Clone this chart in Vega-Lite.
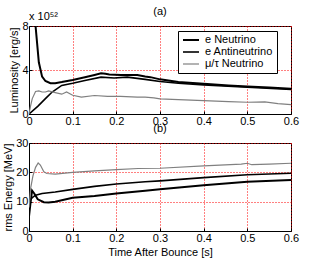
{
  "$schema": "https://vega.github.io/schema/vega-lite/v6.json",
  "background": "white",
  "padding": {"left": 2, "top": 5, "right": 5, "bottom": 2},
  "bounds": "flush",
  "spacing": 29,
  "config": {
    "font": "Liberation Sans",
    "view": {"stroke": "black", "strokeWidth": 1},
    "axis": {
      "labelFont": "Liberation Sans", "labelFontSize": 11, "labelColor": "black",
      "titleFont": "Liberation Sans", "titleFontSize": 11, "titleFontWeight": "normal", "titleColor": "black",
      "domainColor": "black", "tickColor": "black", "tickSize": -3, "titlePadding": 2,
      "labelOverlap": false, "labelFlush": false
    },
    "title": {"font": "Liberation Sans", "fontSize": 11, "fontWeight": "normal", "color": "black"},
    "legend": {"labelFont": "Liberation Sans", "labelFontSize": 11, "labelColor": "black"}
  },
  "datasets": {
    "lum": [
      {"series": "e Neutrino", "t": 0.010, "v": 12},
      {"series": "e Neutrino", "t": 0.015, "v": 8.0},
      {"series": "e Neutrino", "t": 0.0225, "v": 4.7},
      {"series": "e Neutrino", "t": 0.03, "v": 3.4},
      {"series": "e Neutrino", "t": 0.0376, "v": 3.0},
      {"series": "e Neutrino", "t": 0.049, "v": 2.8},
      {"series": "e Neutrino", "t": 0.06, "v": 2.8},
      {"series": "e Neutrino", "t": 0.075, "v": 2.9},
      {"series": "e Neutrino", "t": 0.1, "v": 3.1},
      {"series": "e Neutrino", "t": 0.128, "v": 3.35},
      {"series": "e Neutrino", "t": 0.15, "v": 3.55},
      {"series": "e Neutrino", "t": 0.165, "v": 3.7},
      {"series": "e Neutrino", "t": 0.175, "v": 3.65},
      {"series": "e Neutrino", "t": 0.184, "v": 3.6},
      {"series": "e Neutrino", "t": 0.21, "v": 3.55},
      {"series": "e Neutrino", "t": 0.248, "v": 3.55},
      {"series": "e Neutrino", "t": 0.266, "v": 3.4},
      {"series": "e Neutrino", "t": 0.278, "v": 3.35},
      {"series": "e Neutrino", "t": 0.3, "v": 3.15},
      {"series": "e Neutrino", "t": 0.342, "v": 2.9},
      {"series": "e Neutrino", "t": 0.4, "v": 2.75},
      {"series": "e Neutrino", "t": 0.457, "v": 2.6},
      {"series": "e Neutrino", "t": 0.5, "v": 2.5},
      {"series": "e Neutrino", "t": 0.55, "v": 2.4},
      {"series": "e Neutrino", "t": 0.6, "v": 2.3},
      {"series": "e Antineutrino", "t": 0, "v": 0},
      {"series": "e Antineutrino", "t": 0.02, "v": 0.7},
      {"series": "e Antineutrino", "t": 0.0376, "v": 1.4},
      {"series": "e Antineutrino", "t": 0.053, "v": 2.0},
      {"series": "e Antineutrino", "t": 0.075, "v": 2.6},
      {"series": "e Antineutrino", "t": 0.1, "v": 2.8},
      {"series": "e Antineutrino", "t": 0.128, "v": 3.05},
      {"series": "e Antineutrino", "t": 0.165, "v": 3.35},
      {"series": "e Antineutrino", "t": 0.195, "v": 3.27},
      {"series": "e Antineutrino", "t": 0.225, "v": 3.35},
      {"series": "e Antineutrino", "t": 0.266, "v": 3.15},
      {"series": "e Antineutrino", "t": 0.3, "v": 2.96},
      {"series": "e Antineutrino", "t": 0.342, "v": 2.8},
      {"series": "e Antineutrino", "t": 0.4, "v": 2.65},
      {"series": "e Antineutrino", "t": 0.5, "v": 2.44},
      {"series": "e Antineutrino", "t": 0.6, "v": 2.23},
      {"series": "μ/τ Neutrino", "t": 0, "v": 0},
      {"series": "μ/τ Neutrino", "t": 0.004, "v": 0.8},
      {"series": "μ/τ Neutrino", "t": 0.0075, "v": 1.4},
      {"series": "μ/τ Neutrino", "t": 0.015, "v": 2.05},
      {"series": "μ/τ Neutrino", "t": 0.0225, "v": 2.1},
      {"series": "μ/τ Neutrino", "t": 0.03, "v": 2.0},
      {"series": "μ/τ Neutrino", "t": 0.0376, "v": 2.0},
      {"series": "μ/τ Neutrino", "t": 0.045, "v": 2.1},
      {"series": "μ/τ Neutrino", "t": 0.06, "v": 1.95},
      {"series": "μ/τ Neutrino", "t": 0.075, "v": 1.8},
      {"series": "μ/τ Neutrino", "t": 0.086, "v": 2.0},
      {"series": "μ/τ Neutrino", "t": 0.1, "v": 1.7},
      {"series": "μ/τ Neutrino", "t": 0.12, "v": 1.53},
      {"series": "μ/τ Neutrino", "t": 0.15, "v": 1.68},
      {"series": "μ/τ Neutrino", "t": 0.18, "v": 1.6},
      {"series": "μ/τ Neutrino", "t": 0.21, "v": 1.6},
      {"series": "μ/τ Neutrino", "t": 0.248, "v": 1.53},
      {"series": "μ/τ Neutrino", "t": 0.266, "v": 1.53},
      {"series": "μ/τ Neutrino", "t": 0.286, "v": 1.47},
      {"series": "μ/τ Neutrino", "t": 0.3, "v": 1.37},
      {"series": "μ/τ Neutrino", "t": 0.342, "v": 1.3},
      {"series": "μ/τ Neutrino", "t": 0.4, "v": 1.22},
      {"series": "μ/τ Neutrino", "t": 0.457, "v": 1.13},
      {"series": "μ/τ Neutrino", "t": 0.5, "v": 1.07},
      {"series": "μ/τ Neutrino", "t": 0.54, "v": 1.1},
      {"series": "μ/τ Neutrino", "t": 0.57, "v": 0.95},
      {"series": "μ/τ Neutrino", "t": 0.6, "v": 0.85}
    ],
    "rms": [
      {"series": "e Neutrino", "t": 0, "v": 5},
      {"series": "e Neutrino", "t": 0.003, "v": 9},
      {"series": "e Neutrino", "t": 0.007, "v": 13.8},
      {"series": "e Neutrino", "t": 0.012, "v": 12.8},
      {"series": "e Neutrino", "t": 0.02, "v": 10.8},
      {"series": "e Neutrino", "t": 0.034, "v": 9.8},
      {"series": "e Neutrino", "t": 0.045, "v": 9.7},
      {"series": "e Neutrino", "t": 0.06, "v": 10.0},
      {"series": "e Neutrino", "t": 0.1, "v": 11.3},
      {"series": "e Neutrino", "t": 0.15, "v": 11.9},
      {"series": "e Neutrino", "t": 0.2, "v": 12.8},
      {"series": "e Neutrino", "t": 0.266, "v": 13.7},
      {"series": "e Neutrino", "t": 0.3, "v": 14.2},
      {"series": "e Neutrino", "t": 0.4, "v": 15.6},
      {"series": "e Neutrino", "t": 0.5, "v": 16.8},
      {"series": "e Neutrino", "t": 0.6, "v": 17.4},
      {"series": "e Antineutrino", "t": 0, "v": 10.3},
      {"series": "e Antineutrino", "t": 0.0075, "v": 11.4},
      {"series": "e Antineutrino", "t": 0.015, "v": 12.2},
      {"series": "e Antineutrino", "t": 0.03, "v": 12.8},
      {"series": "e Antineutrino", "t": 0.06, "v": 13.3},
      {"series": "e Antineutrino", "t": 0.1, "v": 14.2},
      {"series": "e Antineutrino", "t": 0.15, "v": 15.2},
      {"series": "e Antineutrino", "t": 0.2, "v": 16.0},
      {"series": "e Antineutrino", "t": 0.266, "v": 16.8},
      {"series": "e Antineutrino", "t": 0.3, "v": 17.1},
      {"series": "e Antineutrino", "t": 0.4, "v": 18.2},
      {"series": "e Antineutrino", "t": 0.5, "v": 19.2},
      {"series": "e Antineutrino", "t": 0.6, "v": 19.7},
      {"series": "μ/τ Neutrino", "t": 0, "v": 8},
      {"series": "μ/τ Neutrino", "t": 0.004, "v": 14.8},
      {"series": "μ/τ Neutrino", "t": 0.009, "v": 18.8},
      {"series": "μ/τ Neutrino", "t": 0.015, "v": 21.7},
      {"series": "μ/τ Neutrino", "t": 0.021, "v": 23.2},
      {"series": "μ/τ Neutrino", "t": 0.026, "v": 22.5},
      {"series": "μ/τ Neutrino", "t": 0.034, "v": 20.2},
      {"series": "μ/τ Neutrino", "t": 0.041, "v": 19.6},
      {"series": "μ/τ Neutrino", "t": 0.06, "v": 19.4},
      {"series": "μ/τ Neutrino", "t": 0.1, "v": 20.0},
      {"series": "μ/τ Neutrino", "t": 0.15, "v": 20.5},
      {"series": "μ/τ Neutrino", "t": 0.2, "v": 20.9},
      {"series": "μ/τ Neutrino", "t": 0.25, "v": 21.3},
      {"series": "μ/τ Neutrino", "t": 0.3, "v": 21.4},
      {"series": "μ/τ Neutrino", "t": 0.4, "v": 22.2},
      {"series": "μ/τ Neutrino", "t": 0.486, "v": 22.8},
      {"series": "μ/τ Neutrino", "t": 0.5, "v": 23.1},
      {"series": "μ/τ Neutrino", "t": 0.51, "v": 22.6},
      {"series": "μ/τ Neutrino", "t": 0.55, "v": 22.8},
      {"series": "μ/τ Neutrino", "t": 0.6, "v": 23.1}
    ],
    "note": [{"t": 0, "v": 8, "label": "x 10⁵²"}]
  },
  "resolve": {
    "scale": {"color": "independent", "strokeWidth": "independent"},
    "legend": {"color": "independent", "strokeWidth": "independent"}
  },
  "vconcat": [
    {
      "width": 262,
      "height": 88,
      "title": {"text": "(a)", "offset": -6},
      "layer": [
        {
          "data": {"name": "lum"},
          "mark": {"type": "line", "clip": true},
          "encoding": {
            "x": {"field": "t", "type": "quantitative", "scale": {"domain": [0, 0.6], "nice": false},
                  "axis": {"title": null, "values": [0, 0.1, 0.2, 0.3, 0.4, 0.5, 0.6], "format": "~g", "labelPadding": 4,
                           "grid": true, "gridColor": "red", "gridDash": [1, 2], "gridWidth": 1, "gridOpacity": 1}},
            "y": {"field": "v", "type": "quantitative", "scale": {"domain": [0, 8], "nice": false},
                  "axis": {"title": "Luminosity [erg/s]", "values": [0, 2, 4, 6, 8], "labelPadding": 4,
                           "grid": true, "gridColor": "red", "gridDash": [1, 2], "gridWidth": 1, "gridOpacity": 1}},
            "detail": {"field": "series"},
            "color": {"field": "series", "type": "nominal",
                      "scale": {"domain": ["e Neutrino", "e Antineutrino", "μ/τ Neutrino"], "range": ["black", "black", "#808080"]},
                      "legend": {"title": null, "orient": "none", "legendX": 149, "legendY": 5,
                                 "strokeColor": "black", "fillColor": "white", "padding": 4,
                                 "symbolType": "stroke", "symbolSize": 256, "clipHeight": 10, "rowPadding": 1,
                                 "labelOffset": 5, "labelFontSize": 11}},
            "strokeWidth": {"field": "series", "type": "nominal",
                            "scale": {"domain": ["e Neutrino", "e Antineutrino", "μ/τ Neutrino"], "range": [2, 1.2, 0.8]},
                            "legend": {"title": null, "orient": "none", "legendX": 149, "legendY": 5,
                                 "strokeColor": "black", "fillColor": "white", "padding": 4,
                                 "symbolType": "stroke", "symbolSize": 256, "clipHeight": 10, "rowPadding": 1,
                                 "labelOffset": 5, "labelFontSize": 11}}
          }
        },
        {
          "data": {"name": "note"},
          "mark": {"type": "text", "align": "left", "baseline": "alphabetic", "dy": -6, "fontSize": 11, "font": "Liberation Sans"},
          "encoding": {
            "x": {"field": "t", "type": "quantitative"},
            "y": {"field": "v", "type": "quantitative"},
            "text": {"field": "label"}
          }
        }
      ]
    },
    {
      "width": 262,
      "height": 88,
      "title": {"text": "(b)", "offset": 3},
      "data": {"name": "rms"},
      "mark": {"type": "line", "clip": true},
      "encoding": {
        "x": {"field": "t", "type": "quantitative", "scale": {"domain": [0, 0.6], "nice": false},
              "axis": {"title": "Time After Bounce [s]", "values": [0, 0.1, 0.2, 0.3, 0.4, 0.5, 0.6], "format": "~g", "labelPadding": 4, "titlePadding": 3,
                       "grid": true, "gridColor": "red", "gridDash": [1, 2], "gridWidth": 1, "gridOpacity": 1}},
        "y": {"field": "v", "type": "quantitative", "scale": {"domain": [0, 30], "nice": false},
              "axis": {"title": "rms Energy [MeV]", "values": [0, 10, 20, 30], "labelPadding": 4,
                       "grid": true, "gridColor": "red", "gridDash": [1, 2], "gridWidth": 1, "gridOpacity": 1}},
        "detail": {"field": "series"},
        "color": {"field": "series", "type": "nominal",
                  "scale": {"domain": ["e Neutrino", "e Antineutrino", "μ/τ Neutrino"], "range": ["black", "black", "#808080"]},
                  "legend": null},
        "strokeWidth": {"field": "series", "type": "nominal",
                        "scale": {"domain": ["e Neutrino", "e Antineutrino", "μ/τ Neutrino"], "range": [2, 1.2, 0.8]},
                        "legend": null}
      }
    }
  ]
}
